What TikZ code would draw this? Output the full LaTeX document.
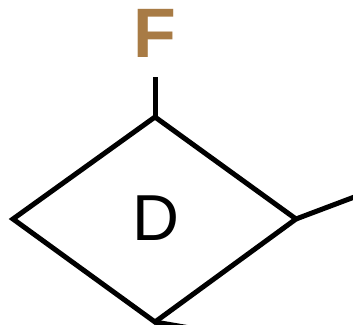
\documentclass[tikz,border=0pt]{standalone}
\usepackage{fontspec}
\setmainfont{Liberation Sans}
\definecolor{labelbrown}{RGB}{168,123,69}
\begin{document}
\begin{tikzpicture}[x=1pt,y=1pt,
  edge/.style={line width=5pt, line join=miter, black},
  label/.style={inner sep=0pt, font=\fontsize{70}{70}\selectfont\bfseries, text=labelbrown},
  centre/.style={inner sep=0pt, font=\fontsize{65}{65}\selectfont}]
  \useasboundingbox (0,0) rectangle (353,324);
  \clip (0,0) rectangle (353,324);
  % diamond corners
  \coordinate (top) at (155,207);
  \coordinate (left) at (13,105);
  \coordinate (right) at (296,105);
  \coordinate (bottom) at (155,2);
  % loose ends of the connectors
  \coordinate (stem) at (155,247);
  \coordinate (rightend) at (365,131);
  \coordinate (bottomend) at (190,-4);
  \node[centre] (D) at (156,106) {D};
  \node[label] (F) at (155,291) {F};
  \draw[edge] (top) -- (right) -- (bottom) -- (left) -- cycle;
  \draw[edge] (top) -- (stem);
  \draw[edge] (right) -- (rightend);
  \draw[edge] (bottom) -- (bottomend);
\end{tikzpicture}
\end{document}
